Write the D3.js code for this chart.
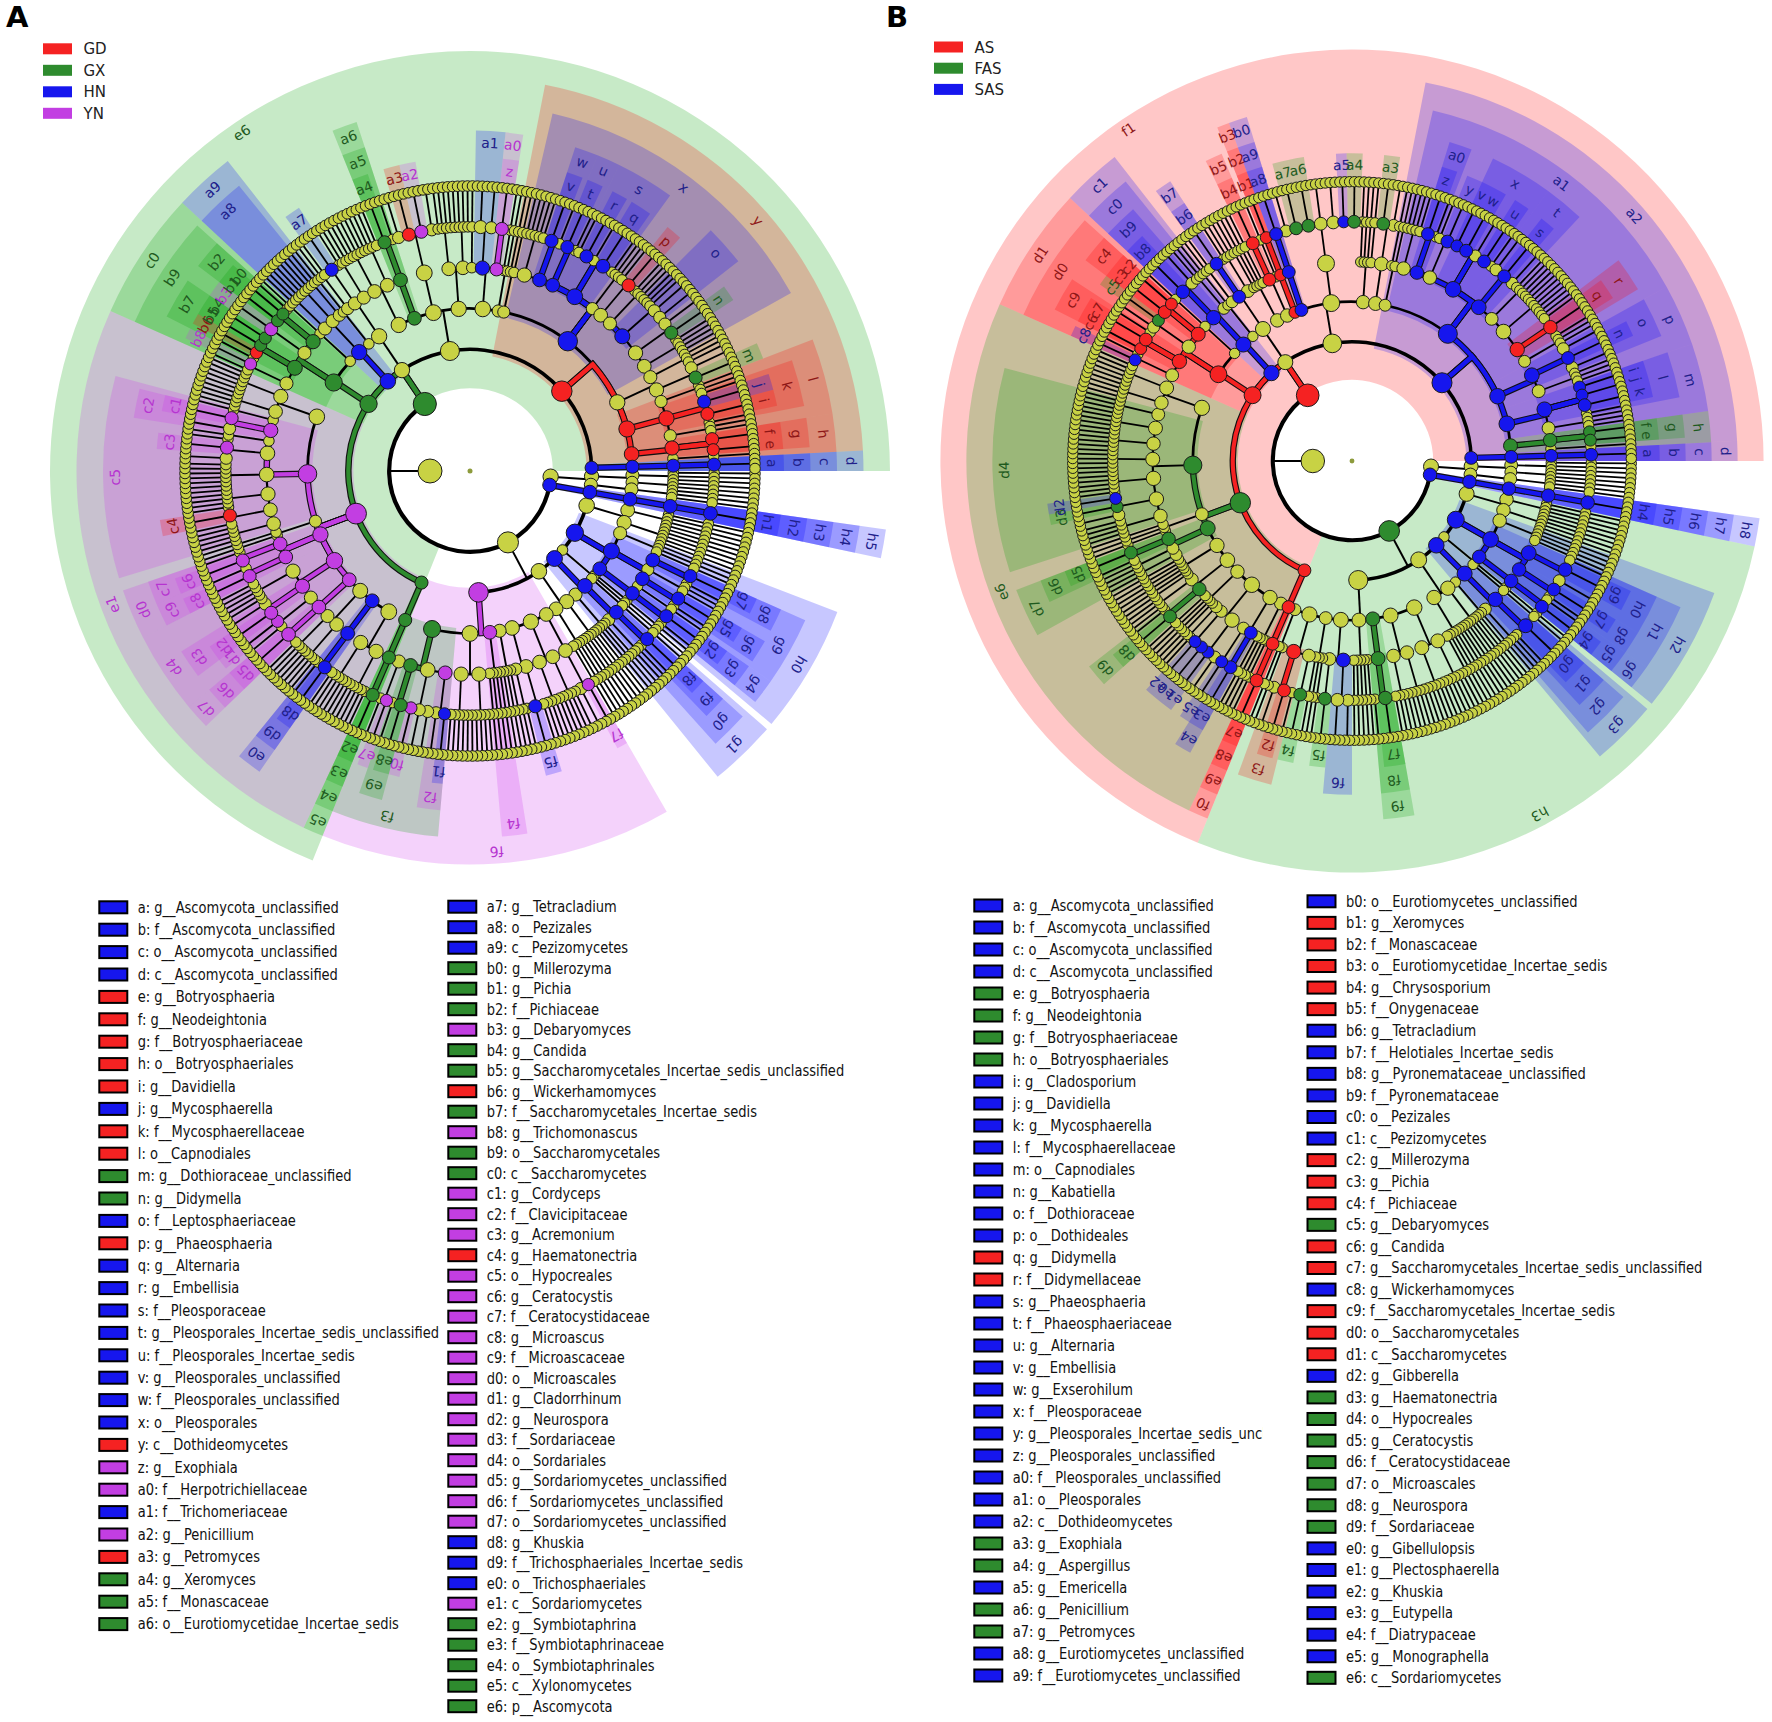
<!DOCTYPE html>
<html>
<head>
<meta charset="utf-8">
<title>LEfSe cladograms</title>
<script src="https://cdn.jsdelivr.net/npm/d3@7/dist/d3.min.js"></script>
<style>
  body { margin: 0; background: #fff; }
  text { font-family: 'DejaVu Sans', sans-serif; }
</style>
</head>
<body>
<svg id="fig" width="1772" height="1722"></svg>
<script>
// groups shown in the two small keys
const groupsA = ['GD', 'GX', 'HN', 'YN'];
const groupsB = ['AS', 'FAS', 'SAS'];

// legend entries: [label, taxon, group]
const legendA1 = [
  ['a', 'g__Ascomycota_unclassified', 'HN'], ['b', 'f__Ascomycota_unclassified', 'HN'],
  ['c', 'o__Ascomycota_unclassified', 'HN'], ['d', 'c__Ascomycota_unclassified', 'HN'],
  ['e', 'g__Botryosphaeria', 'GD'], ['f', 'g__Neodeightonia', 'GD'],
  ['g', 'f__Botryosphaeriaceae', 'GD'], ['h', 'o__Botryosphaeriales', 'GD'],
  ['i', 'g__Davidiella', 'GD'], ['j', 'g__Mycosphaerella', 'HN'],
  ['k', 'f__Mycosphaerellaceae', 'GD'], ['l', 'o__Capnodiales', 'GD'],
  ['m', 'g__Dothioraceae_unclassified', 'GX'], ['n', 'g__Didymella', 'GX'],
  ['o', 'f__Leptosphaeriaceae', 'HN'], ['p', 'g__Phaeosphaeria', 'GD'],
  ['q', 'g__Alternaria', 'HN'], ['r', 'g__Embellisia', 'HN'],
  ['s', 'f__Pleosporaceae', 'HN'], ['t', 'g__Pleosporales_Incertae_sedis_unclassified', 'HN'],
  ['u', 'f__Pleosporales_Incertae_sedis', 'HN'], ['v', 'g__Pleosporales_unclassified', 'HN'],
  ['w', 'f__Pleosporales_unclassified', 'HN'], ['x', 'o__Pleosporales', 'HN'],
  ['y', 'c__Dothideomycetes', 'GD'], ['z', 'g__Exophiala', 'YN'],
  ['a0', 'f__Herpotrichiellaceae', 'YN'], ['a1', 'f__Trichomeriaceae', 'HN'],
  ['a2', 'g__Penicillium', 'YN'], ['a3', 'g__Petromyces', 'GD'],
  ['a4', 'g__Xeromyces', 'GX'], ['a5', 'f__Monascaceae', 'GX'],
  ['a6', 'o__Eurotiomycetidae_Incertae_sedis', 'GX']
];
const legendA2 = [
  ['a7', 'g__Tetracladium', 'HN'], ['a8', 'o__Pezizales', 'HN'], ['a9', 'c__Pezizomycetes', 'HN'],
  ['b0', 'g__Millerozyma', 'GX'], ['b1', 'g__Pichia', 'GX'], ['b2', 'f__Pichiaceae', 'GX'],
  ['b3', 'g__Debaryomyces', 'YN'], ['b4', 'g__Candida', 'GX'],
  ['b5', 'g__Saccharomycetales_Incertae_sedis_unclassified', 'GX'],
  ['b6', 'g__Wickerhamomyces', 'GD'], ['b7', 'f__Saccharomycetales_Incertae_sedis', 'GX'],
  ['b8', 'g__Trichomonascus', 'YN'], ['b9', 'o__Saccharomycetales', 'GX'],
  ['c0', 'c__Saccharomycetes', 'GX'], ['c1', 'g__Cordyceps', 'YN'],
  ['c2', 'f__Clavicipitaceae', 'YN'], ['c3', 'g__Acremonium', 'YN'],
  ['c4', 'g__Haematonectria', 'GD'], ['c5', 'o__Hypocreales', 'YN'],
  ['c6', 'g__Ceratocystis', 'YN'], ['c7', 'f__Ceratocystidaceae', 'YN'],
  ['c8', 'g__Microascus', 'YN'], ['c9', 'f__Microascaceae', 'YN'],
  ['d0', 'o__Microascales', 'YN'], ['d1', 'g__Cladorrhinum', 'YN'],
  ['d2', 'g__Neurospora', 'YN'], ['d3', 'f__Sordariaceae', 'YN'],
  ['d4', 'o__Sordariales', 'YN'], ['d5', 'g__Sordariomycetes_unclassified', 'YN'],
  ['d6', 'f__Sordariomycetes_unclassified', 'YN'], ['d7', 'o__Sordariomycetes_unclassified', 'YN'],
  ['d8', 'g__Khuskia', 'HN'], ['d9', 'f__Trichosphaeriales_Incertae_sedis', 'HN'],
  ['e0', 'o__Trichosphaeriales', 'HN'], ['e1', 'c__Sordariomycetes', 'YN'],
  ['e2', 'g__Symbiotaphrina', 'GX'], ['e3', 'f__Symbiotaphrinaceae', 'GX'],
  ['e4', 'o__Symbiotaphrinales', 'GX'], ['e5', 'c__Xylonomycetes', 'GX'],
  ['e6', 'p__Ascomycota', 'GX']
];
const legendB1 = [
  ['a', 'g__Ascomycota_unclassified', 'SAS'], ['b', 'f__Ascomycota_unclassified', 'SAS'],
  ['c', 'o__Ascomycota_unclassified', 'SAS'], ['d', 'c__Ascomycota_unclassified', 'SAS'],
  ['e', 'g__Botryosphaeria', 'FAS'], ['f', 'g__Neodeightonia', 'FAS'],
  ['g', 'f__Botryosphaeriaceae', 'FAS'], ['h', 'o__Botryosphaeriales', 'FAS'],
  ['i', 'g__Cladosporium', 'SAS'], ['j', 'g__Davidiella', 'SAS'],
  ['k', 'g__Mycosphaerella', 'SAS'], ['l', 'f__Mycosphaerellaceae', 'SAS'],
  ['m', 'o__Capnodiales', 'SAS'], ['n', 'g__Kabatiella', 'SAS'],
  ['o', 'f__Dothioraceae', 'SAS'], ['p', 'o__Dothideales', 'SAS'],
  ['q', 'g__Didymella', 'AS'], ['r', 'f__Didymellaceae', 'AS'],
  ['s', 'g__Phaeosphaeria', 'SAS'], ['t', 'f__Phaeosphaeriaceae', 'SAS'],
  ['u', 'g__Alternaria', 'SAS'], ['v', 'g__Embellisia', 'SAS'],
  ['w', 'g__Exserohilum', 'SAS'], ['x', 'f__Pleosporaceae', 'SAS'],
  ['y', 'g__Pleosporales_Incertae_sedis_unclassified', 'SAS'], ['z', 'g__Pleosporales_unclassified', 'SAS'],
  ['a0', 'f__Pleosporales_unclassified', 'SAS'], ['a1', 'o__Pleosporales', 'SAS'],
  ['a2', 'c__Dothideomycetes', 'SAS'], ['a3', 'g__Exophiala', 'FAS'],
  ['a4', 'g__Aspergillus', 'FAS'], ['a5', 'g__Emericella', 'SAS'],
  ['a6', 'g__Penicillium', 'FAS'], ['a7', 'g__Petromyces', 'FAS'],
  ['a8', 'g__Eurotiomycetes_unclassified', 'SAS'], ['a9', 'f__Eurotiomycetes_unclassified', 'SAS']
];
const legendB2 = [
  ['b0', 'o__Eurotiomycetes_unclassified', 'SAS'], ['b1', 'g__Xeromyces', 'AS'],
  ['b2', 'f__Monascaceae', 'AS'], ['b3', 'o__Eurotiomycetidae_Incertae_sedis', 'AS'],
  ['b4', 'g__Chrysosporium', 'AS'], ['b5', 'f__Onygenaceae', 'AS'],
  ['b6', 'g__Tetracladium', 'SAS'], ['b7', 'f__Helotiales_Incertae_sedis', 'SAS'],
  ['b8', 'g__Pyronemataceae_unclassified', 'SAS'], ['b9', 'f__Pyronemataceae', 'SAS'],
  ['c0', 'o__Pezizales', 'SAS'], ['c1', 'c__Pezizomycetes', 'SAS'],
  ['c2', 'g__Millerozyma', 'AS'], ['c3', 'g__Pichia', 'AS'], ['c4', 'f__Pichiaceae', 'AS'],
  ['c5', 'g__Debaryomyces', 'FAS'], ['c6', 'g__Candida', 'AS'],
  ['c7', 'g__Saccharomycetales_Incertae_sedis_unclassified', 'AS'],
  ['c8', 'g__Wickerhamomyces', 'SAS'], ['c9', 'f__Saccharomycetales_Incertae_sedis', 'AS'],
  ['d0', 'o__Saccharomycetales', 'AS'], ['d1', 'c__Saccharomycetes', 'AS'],
  ['d2', 'g__Gibberella', 'SAS'], ['d3', 'g__Haematonectria', 'FAS'],
  ['d4', 'o__Hypocreales', 'FAS'], ['d5', 'g__Ceratocystis', 'FAS'],
  ['d6', 'f__Ceratocystidaceae', 'FAS'], ['d7', 'o__Microascales', 'FAS'],
  ['d8', 'g__Neurospora', 'FAS'], ['d9', 'f__Sordariaceae', 'FAS'],
  ['e0', 'g__Gibellulopsis', 'SAS'], ['e1', 'g__Plectosphaerella', 'SAS'],
  ['e2', 'g__Khuskia', 'SAS'], ['e3', 'g__Eutypella', 'SAS'],
  ['e4', 'f__Diatrypaceae', 'SAS'], ['e5', 'g__Monographella', 'SAS'],
  ['e6', 'c__Sordariomycetes', 'FAS']
];

// labels drawn on the cladograms that the printed legends cut off
const extraA = [['e7', 'YN'], ['e8', 'GX'], ['e9', 'GX'], ['f0', 'YN'], ['f1', 'HN'], ['f2', 'YN'],
  ['f3', 'GX'], ['f4', 'YN'], ['f5', 'HN'], ['f6', 'YN'], ['f7', 'YN'], ['f8', 'HN'], ['f9', 'HN'],
  ['g0', 'HN'], ['g1', 'HN'], ['g2', 'HN'], ['g3', 'HN'], ['g4', 'HN'], ['g5', 'HN'], ['g6', 'HN'],
  ['g7', 'HN'], ['g8', 'HN'], ['g9', 'HN'], ['h0', 'HN'], ['h1', 'HN'], ['h2', 'HN'], ['h3', 'HN'],
  ['h4', 'HN'], ['h5', 'HN']];
const extraB = [['e7', 'AS'], ['e8', 'AS'], ['e9', 'AS'], ['f0', 'AS'], ['f1', 'AS'], ['f2', 'AS'],
  ['f3', 'AS'], ['f4', 'FAS'], ['f5', 'FAS'], ['f6', 'SAS'], ['f7', 'FAS'], ['f8', 'FAS'], ['f9', 'FAS'],
  ['g0', 'SAS'], ['g1', 'SAS'], ['g2', 'SAS'], ['g3', 'SAS'], ['g4', 'SAS'], ['g5', 'SAS'], ['g6', 'SAS'],
  ['g7', 'SAS'], ['g8', 'SAS'], ['g9', 'SAS'], ['h0', 'SAS'], ['h1', 'SAS'], ['h2', 'SAS'], ['h3', 'FAS'],
  ['h4', 'SAS'], ['h5', 'SAS'], ['h6', 'SAS'], ['h7', 'SAS'], ['h8', 'SAS']];

// taxonomy, one array per phylum, phylum > class > order > family > genus.
// a leading plain string tags a clade with its label. a number n is a taxon with
// n unbranched lineages below it (at genus rank: n species). "id:n" is the same, tagged.
const A_p0 = [[3, 2], [3]];
const A_h5 = ['h5', ['h4', ['h3', ['h2', 'h1:4']]]];
const A_basidio = [
  [4, 5],
  ['h0', 3, ['g9', ['g8', 'g7:3', 1], 2, ['g6', 'g5:3', 1], 1], ['g4', ['g3', 'g2:3', 1]], 1],
  [1],
  ['g1', 1, ['g0', ['f9', 'f8:3', 1], 2], 3],
  [5, 4],
  ['f6', [['f7:2', 2]], [4, 4], [[1, 'f5:3'], 2], 3, 'f4:4', [5, 5],
    ['f3', ['f2', 'f1:2', 2], [2, 2, 'f0:2'], ['e9', 'e8:3', 1], ['e7:2', 1]]]
];
const A_asco = ['e6',
  ['e5', ['e4', ['e3', 'e2:3']]],
  ['e1',
    [5, 5],
    ['e0', ['d9', 'd8:3', 1]],
    [4, 3],
    ['d7', ['d6', 'd5:4']],
    ['d4', [1, 'd1:2'], ['d3', 'd2:3', 2], 5],
    ['d0', ['c9', 'c8:3', 1], ['c7', 'c6:3', 1]],
    2,
    ['c5', 4, [1, 'c4:3'], 5, 6, [2, 'c3:3', 1], 1, ['c2', 2, 'c1:3'], 1],
    [4, 5]
  ],
  ['c0', ['b9', [1, 'b8:2'], ['b7', 1, 'b6:2', 'b5:2', 'b4:2'], ['b3:3'], ['b2', 'b1:2', 'b0:2', 1]], 1],
  ['a9', ['a8', 3, 3, 2], 1],
  [[2, ['a7:3'], 3]],
  [[4, 4], ['a6', ['a5', 'a4:3', 1]], [[2, 'a3:3', 'a2:3', 2]], [4, 4], [1, ['a1', 3, 2], ['a0', 'z:3']], 2],
  ['y', 2,
    ['x', 5, ['w', 'v:3', 1], ['u', 't:3', 1], ['s', 1, 'r:3', 1, 'q:4', 1], 2, [1, 'p:3'], 3,
      ['o', 1, 1, 1, 2, 2], [2, 'n:3'], 4],
    [3, [2, 'm:3']],
    ['l', 2, ['k', 1, 'j:3', 'i:3', 1], 2],
    ['h', ['g', 'f:3', 'e:2'], 1]
  ],
  ['d', ['c', ['b', 'a:3']]]
];

const B_p0 = [[3, 2], [3]];
const B_h8 = ['h8', ['h7', ['h6', ['h5', 'h4:4']]]];
const B_basidio = ['h3',
  [4, 4],
  ['h2', 4, ['h1', ['h0', 1, 'g9:4', 2], ['g8', 'g7:3', 1]], ['g6', ['g5', 1, 'g4:3']]],
  [1],
  ['g3', 1, ['g2', ['g1', 'g0:5', 1], 2], 1],
  [6, 6],
  [[5, 5], [4, 4], ['f9', ['f8', 'f7:4', 1]], 5, [['f6', 2, 3], ['f5:3']], 3,
    [['f4:3'], ['f3', 1, 'f2:3', 2]], 2]
];
const B_asco = ['f1',
  ['f0', ['e9', ['e8', 'e7:3']]],
  ['e6',
    3,
    [[1], ['e4', 'e3:3'], ['e5:2']],
    [[2, 'e1:2', 'e0:2'], ['e2:2'], 2],
    4,
    [['d9', 'd8:3', 1], 3],
    6,
    ['d7', 2, 2, ['d6', 1, 'd5:3']],
    3,
    ['d4', 4, [2, 'd3:2', 'd2:2'], 6, 5, 4, 5, 3],
    [4, 5]
  ],
  ['d1', ['d0', ['c8:2', 1], ['c9', 'c6:2', 'c7:3', 1], [2, 'c5:2'], ['c4', 'c3:3', 'c2:2']], 1],
  ['c1', ['c0', ['b9', 'b8:4', 2], 2], 1],
  [[2, ['b7', 'b6:3'], 3]],
  [4, [['b5', 'b4:3'], 1], ['b3', ['b2', 'b1:2']], ['b0', ['a9', 'a8:3']],
    [[2, 'a7:3', 'a6:3', 3, 3, 'a5:2', 'a4:3']], 4, [['a3:3', 2]]],
  ['a2', 2,
    ['a1', 4, ['a0', 'z:3', 1], [1, 'y:3'], ['x', 'v:2', 'w:3', 2, 'u:3', 1], ['t', 2, 's:3', 2], 3, 7,
      ['r', 1, 'q:4', 1], 2],
    ['p', ['o', 2, 'n:3', 2], 3],
    ['m', ['l', 'i:2', 'j:2', 'k:3', 1], 3],
    ['h', ['g', 'f:2', 'e:2'], 1]
  ],
  ['d', ['c', ['b', 'a:3']]]
];

// ---- colours ----
const nodeFill = { GD: '#f52222', GX: '#2e8b2e', HN: '#1616ee', YN: '#c23ee2', AS: '#f52222', FAS: '#2e8b2e', SAS: '#1616ee' };
const shadeFill = { GD: '#ff0000', GX: '#00a000', HN: '#0000ff', YN: '#cc33ee', AS: '#ff0000', FAS: '#00a000', SAS: '#0000ff' };
const labelFill = { GD: '#8e1616', GX: '#1e5a1e', HN: '#20208a', YN: '#b634d0', AS: '#8e1616', FAS: '#1e5a1e', SAS: '#20208a' };
const plainFill = '#c8d244';

const svg = d3.select('#fig');

// rank depth -> ring radius, clade depth -> outer edge of its shading
const ringR = d3.scaleLinear().domain([1, 7]).range([40, 285]);
const shadeOuter = d3.scaleLinear().domain([2, 6]).range([420, 314]);
const nodeR = d3.scaleLog().domain([1, 360]).range([5.3, 12]);

// one taxon per rank down to a single species
function lineage(depth) {
  return depth === 7 ? { id: null } : { id: null, children: [lineage(depth + 1)] };
}
function chain(id, n, depth) {
  return { id, children: d3.range(n).map(() => lineage(depth + 1)) };
}

function buildNode(spec, depth) {
  if (typeof spec === 'number') return chain(null, spec, depth);
  if (typeof spec === 'string') {
    const [id, n] = spec.split(':');
    return chain(id, +n, depth);
  }
  let id = null, kids = spec;
  if (typeof spec[0] === 'string' && !spec[0].includes(':')) {
    id = spec[0];
    kids = spec.slice(1);
  }
  return { id, children: kids.map(k => buildNode(k, depth + 1)) };
}

const rad = a => a * Math.PI / 180;
const pt = (r, a) => [r * Math.cos(rad(a)), r * Math.sin(rad(a))];

function drawPanel(cx, cy, k, phyla, groupOf) {
  const root = d3.hierarchy({ id: null, children: [{ id: null, children: phyla.map(p => buildNode(p, 2)) }] }).count();
  d3.cluster().size([360, 1]).separation(() => 1)(root);
  // inner nodes sit at the mean angle of their leaves
  root.eachAfter(n => { if (n.children) n.x = d3.mean(n.leaves(), l => l.x); });
  const unit = 360 / root.value;

  const g = svg.append('g').attr('transform', `translate(${cx},${cy}) scale(${k})`);

  const tagged = root.descendants().filter(n => n.data.id);
  tagged.forEach(n => {
    const ls = n.leaves();
    n.a0 = d3.min(ls, l => l.x) - unit / 2;
    n.a1 = d3.max(ls, l => l.x) + unit / 2;
    n.group = groupOf.get(n.data.id);
  });

  // shaded clades
  const shade = d3.arc();
  g.append('g').selectAll('path')
    .data(tagged.slice().sort((a, b) => a.depth - b.depth))
    .join('path')
    .attr('d', n => shade({
      innerRadius: n.depth === 2 ? ringR(2) + 2 : ringR(n.depth) - 5,
      outerRadius: shadeOuter(n.depth),
      startAngle: rad(n.a0 + 90),
      endAngle: rad(n.a1 + 90)
    }))
    .attr('fill', n => shadeFill[n.group])
    .attr('fill-opacity', 0.22);

  // clade labels
  g.append('g').selectAll('text')
    .data(tagged)
    .join('text')
    .attr('transform', n => {
      const [x, y] = pt(shadeOuter(n.depth) - 12, n.x);
      return `translate(${x},${y}) rotate(${n.x + 90})`;
    })
    .attr('text-anchor', 'middle')
    .attr('dy', '0.35em')
    .attr('font-size', 14)
    .attr('fill', n => labelFill[n.group])
    .text(n => n.data.id);

  // branches: a spoke out of every inner node, then an arc across its children
  const arcW = [0, 0, 4.2, 3.6, 2.8, 2.2, 1.9, 1.8];
  const spokeW = [0, 2, 2, 2, 1.9, 1.8, 1.8];
  const edges = g.append('g').attr('fill', 'none').attr('stroke', '#000');
  root.descendants().filter(n => n.depth >= 1 && n.children).forEach(n => {
    const r0 = ringR(n.depth), r1 = ringR(n.depth + 1);
    const p = d3.path();
    p.moveTo(...pt(r0, n.x));
    p.lineTo(...pt(r1, n.x));
    edges.append('path').attr('d', p.toString()).attr('stroke-width', spokeW[n.depth]);
    const lo = d3.min(n.children, c => c.x), hi = d3.max(n.children, c => c.x);
    if (hi - lo > 0.01) {
      const q = d3.path();
      q.arc(0, 0, r1, rad(lo), rad(hi));
      edges.append('path').attr('d', q.toString()).attr('stroke-width', arcW[n.depth + 1]);
    }
  });

  // coloured branches between two markers of the same group
  const linked = tagged.filter(n => n.parent && n.parent.data.id && n.parent.group === n.group);
  const linkPath = n => {
    const p = d3.path();
    const r0 = ringR(n.parent.depth), r1 = ringR(n.depth);
    p.moveTo(...pt(r0, n.parent.x));
    p.lineTo(...pt(r1, n.parent.x));
    if (Math.abs(n.x - n.parent.x) > 0.01) p.arc(0, 0, r1, rad(n.parent.x), rad(n.x), n.x < n.parent.x);
    return p.toString();
  };
  const links = g.append('g').attr('fill', 'none');
  links.selectAll('path.under').data(linked).join('path').attr('class', 'under')
    .attr('d', linkPath).attr('stroke', '#111').attr('stroke-width', 6.5);
  links.selectAll('path.over').data(linked).join('path').attr('class', 'over')
    .attr('d', linkPath).attr('stroke', n => nodeFill[n.group]).attr('stroke-width', 4.2);

  // nodes, outer ranks first, markers on top
  const nodes = root.descendants().filter(n => n.depth >= 1)
    .sort((a, b) => ((a.data.id ? 1 : 0) - (b.data.id ? 1 : 0)) || (b.depth - a.depth));
  g.append('g').selectAll('circle')
    .data(nodes)
    .join('circle')
    .attr('cx', n => pt(ringR(n.depth), n.x)[0])
    .attr('cy', n => pt(ringR(n.depth), n.x)[1])
    .attr('r', n => nodeR(n.value))
    .attr('fill', n => n.data.id ? nodeFill[n.group] : plainFill)
    .attr('stroke', '#1a1a1a')
    .attr('stroke-width', 1);

  g.append('circle').attr('r', 2.5).attr('fill', '#8d9b3c');
}

function groupKey(groups, x, y0, dy) {
  const g = svg.append('g');
  g.selectAll('rect').data(groups).join('rect')
    .attr('x', x).attr('y', (d, i) => y0 + i * dy - 5.5)
    .attr('width', 29).attr('height', 11)
    .attr('fill', d => nodeFill[d]);
  g.selectAll('text').data(groups).join('text')
    .attr('x', x + 40.5).attr('y', (d, i) => y0 + i * dy + 5.5)
    .attr('font-size', 15).attr('fill', '#222')
    .text(d => d);
}

let clipCount = 0;
function legendColumn(rows, x0, y0, dy, clipRight) {
  const g = svg.append('g');
  if (clipRight) {
    const id = 'legclip' + (clipCount++);
    svg.append('clipPath').attr('id', id).append('rect')
      .attr('x', x0 - 5).attr('y', y0 - 20)
      .attr('width', clipRight - x0 + 5).attr('height', rows.length * dy + 40);
    g.attr('clip-path', `url(#${id})`);
  }
  g.selectAll('rect').data(rows).join('rect')
    .attr('x', x0).attr('y', (d, i) => y0 + i * dy - 6)
    .attr('width', 28).attr('height', 12)
    .attr('fill', d => nodeFill[d[2]])
    .attr('stroke', '#000').attr('stroke-width', 2);
  g.selectAll('text').data(rows).join('text')
    .attr('transform', (d, i) => `translate(${x0 + 38.5},${y0 + i * dy + 5.3}) scale(0.87,1)`)
    .attr('font-size', 15).attr('fill', '#111')
    .text(d => `${d[0]}: ${d[1]}`);
}

const groupOfA = new Map(legendA1.concat(legendA2).map(d => [d[0], d[2]]).concat(extraA));
const groupOfB = new Map(legendB1.concat(legendB2).map(d => [d[0], d[2]]).concat(extraB));

drawPanel(470, 471, 1, [A_p0, A_h5, A_basidio, A_asco], groupOfA);
drawPanel(1352, 461, 0.98, [B_p0, B_h8, B_basidio, B_asco], groupOfB);

groupKey(groupsA, 43, 48.8, 21.5);
groupKey(groupsB, 934, 47, 21.2);

legendColumn(legendA1, 99.3, 907.3, 22.4, null);
legendColumn(legendA2, 448.3, 906.7, 20.5, 848);
legendColumn(legendB1, 974.3, 905.5, 22.0, 1263);
legendColumn(legendB2, 1307.5, 901.3, 21.57, 1714);

svg.append('text').attr('x', 6).attr('y', 27)
  .attr('font-family', 'Liberation Sans, Arial, sans-serif').attr('font-weight', 'bold')
  .attr('font-size', 29).text('A');
svg.append('text').attr('x', 886).attr('y', 27)
  .attr('font-family', 'Liberation Sans, Arial, sans-serif').attr('font-weight', 'bold')
  .attr('font-size', 29).text('B');
</script>
</body>
</html>
